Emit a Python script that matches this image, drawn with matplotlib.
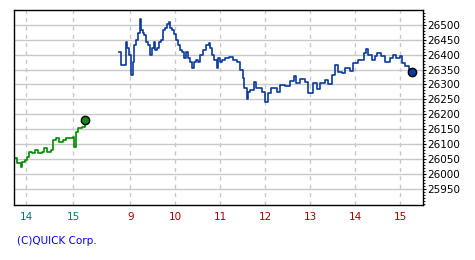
import matplotlib.pyplot as plt
import numpy as np

# previous session (minutes after 13:45) and values
prev_min = [0, 3, 8, 9, 13, 16, 19, 22, 26, 30, 35, 38, 42, 46, 49, 53, 57, 62,
            66, 70, 74, 76, 79, 81, 86, 90]
prev_val = [26052, 26035, 26023, 26040, 26046, 26057, 26074, 26068, 26080, 26068,
            26074, 26087, 26074, 26080, 26113, 26119, 26105, 26113, 26121, 26119,
            26124, 26091, 26141, 26153, 26158, 26180]

# today's session (minutes after 8:45) and values
day_min = [0, 3, 9, 11, 13, 16, 18, 20, 23, 25, 28, 29, 32, 33, 36, 39, 41, 44, 47,
           48, 51, 53, 56, 59, 61, 64, 67, 68, 71, 73, 76, 79, 81, 84, 87, 89, 92,
           95, 97, 100, 103, 105, 108, 112, 116, 120, 121, 124, 127, 130, 132, 135,
           137, 141, 146, 152, 157, 161, 165, 167, 170, 172, 175, 180, 183, 187,
           191, 194, 199, 203, 210, 215, 221, 228, 233, 236, 241, 248, 252, 259,
           264, 268, 275, 279, 284, 288, 292, 297, 301, 308, 312, 319, 326, 329,
           332, 337, 341, 344, 349, 355, 361, 365, 369, 374, 377, 381, 386, 390]
day_val = [26409, 26365, 26444, 26423, 26399, 26332, 26376, 26433, 26450, 26473,
           26519, 26483, 26473, 26466, 26443, 26433, 26399, 26423, 26443, 26416,
           26423, 26443, 26450, 26483, 26490, 26503, 26510, 26490, 26483, 26470,
           26450, 26433, 26416, 26409, 26389, 26409, 26389, 26376, 26355, 26376,
           26382, 26376, 26399, 26416, 26433, 26439, 26423, 26399, 26382, 26355,
           26389, 26376, 26382, 26389, 26392, 26382, 26376, 26349, 26322, 26288,
           26251, 26275, 26281, 26308, 26288, 26288, 26275, 26242, 26271, 26289,
           26276, 26298, 26295, 26313, 26329, 26304, 26317, 26309, 26270, 26306,
           26284, 26306, 26315, 26302, 26332, 26365, 26343, 26338, 26354, 26346,
           26371, 26382, 26407, 26418, 26399, 26382, 26396, 26407, 26396, 26377,
           26388, 26399, 26388, 26396, 26371, 26362, 26349, 26343]

prev_ticks = ['14', '15']
day_ticks = ['9', '10', '11', '12', '13', '14', '15']
yticks = np.arange(25950, 26501, 50)

# x position: minutes relative to 9:00 of today, previous session slightly wider
prev_scale = 47 / 45
px = [-76 + (m - 75) * prev_scale for m in prev_min]
dx = [m - 15 for m in day_min]

fig = plt.figure(figsize=(4.75, 2.6), dpi=100)
ax = fig.add_axes([14 / 475, 1 - 205 / 260, (423.3 - 14) / 475, 195 / 260])

ax.plot(px, prev_val, color='#008a00', lw=1.2, drawstyle='steps-post')
ax.plot(px[-1], prev_val[-1], 'o', ms=6, mfc='#108a10', mec='black', mew=1)
ax.plot(dx, day_val, color='#0a3a9e', lw=1.2, drawstyle='steps-post')
ax.plot(dx[-1], day_val[-1], 'o', ms=6, mfc='#0a3a9e', mec='black', mew=1)

xt = [-76 - 60 * prev_scale, -76] + [60 * i for i in range(7)]
ax.set_xticks(xt)
ax.set_xticklabels(prev_ticks + day_ticks)
for i, t in enumerate(ax.get_xticklabels()):
    t.set_color('#007878' if i < 2 else '#a00000')
ax.set_xlim(-155.1, 390.7)
ax.set_ylim(25895, 26550)

ax.yaxis.tick_right()
ax.set_yticks(yticks)
ax.set_yticks(np.arange(25900, 26550, 10), minor=True)
ax.tick_params(axis='y', length=2, pad=1, labelsize=7.5, width=0.8)
ax.tick_params(axis='y', which='minor', length=1.2, width=0.6)
ax.tick_params(axis='x', length=0, pad=5, labelsize=7.5)

for y in yticks:
    ax.axhline(y, color='#c8c8c8', lw=1, zorder=0)
for x in xt:
    ax.axvline(x, color='#c8c8c8', lw=1, ls=(0, (3, 3)), zorder=0)

for s in ax.spines.values():
    s.set_linewidth(1)
    s.set_color('black')

fig.text(17 / 475, 1 - 241 / 260, '(C)QUICK Corp.', color='#0000ff',
         fontsize=7.5, va='center', ha='left')

fig.savefig('out.png', dpi=100)
